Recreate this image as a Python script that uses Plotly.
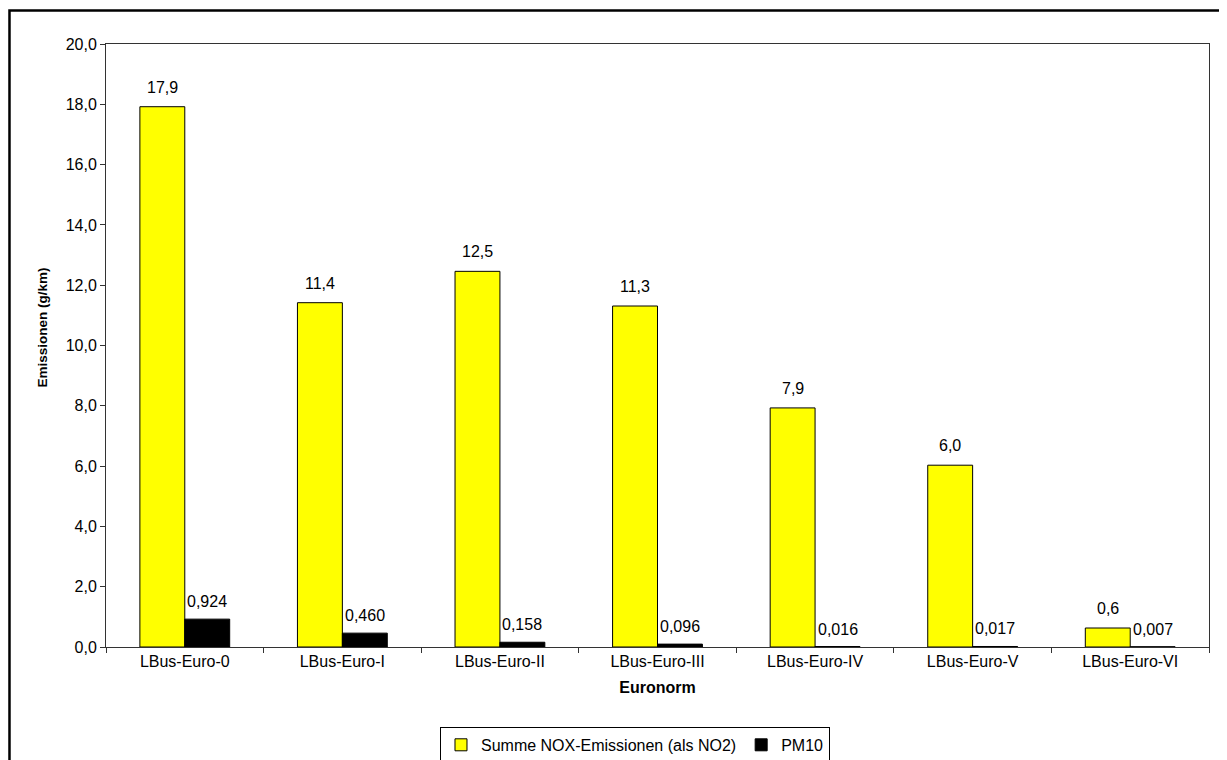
"""
Emissionen je Euronorm (Linienbus) - Nachbau mit Plotly
"""
import plotly.graph_objects as go

# Daten
kategorien = ['LBus-Euro-0', 'LBus-Euro-I', 'LBus-Euro-II', 'LBus-Euro-III',
              'LBus-Euro-IV', 'LBus-Euro-V', 'LBus-Euro-VI']
nox_werte = [17.92, 11.42, 12.46, 11.31, 7.93, 6.03, 0.63]
pm10_werte = [0.924, 0.460, 0.158, 0.096, 0.016, 0.017, 0.007]
y_ticks = [0, 2, 4, 6, 8, 10, 12, 14, 16, 18, 20]

SCHRIFT = 'Liberation Sans, Arial, sans-serif'


def de_format(wert, stellen):
    """Zahl mit Komma als Dezimaltrenner"""
    return f'{wert:.{stellen}f}'.replace('.', ',')


fig = go.Figure()

fig.add_trace(go.Bar(
    x=kategorien,
    y=nox_werte,
    name='Summe NOX-Emissionen (als NO2)',
    marker=dict(color='#FFFF00', line=dict(color='black', width=1)),
    hoverinfo='y'
))

fig.add_trace(go.Bar(
    x=kategorien,
    y=pm10_werte,
    name='PM10',
    marker=dict(color='black', line=dict(color='black', width=1)),
    hoverinfo='y'
))

# Datenbeschriftungen (wie in Excel etwas abgesetzt über den Balken)
annotationen = []
for kat, nox, pm in zip(kategorien, nox_werte, pm10_werte):
    annotationen.append(dict(
        x=kat, y=nox, text=de_format(nox, 1), showarrow=False,
        xshift=-22.5, yshift=9, yanchor='bottom',
        font=dict(size=16, color='black')
    ))
    annotationen.append(dict(
        x=kat, y=pm, text=de_format(pm, 3), showarrow=False,
        xshift=22.5, yshift=7, yanchor='bottom',
        font=dict(size=16, color='black')
    ))

# Y-Achsentitel etwas oberhalb der Mitte, wie im Original
annotationen.append(dict(
    text='<b>Emissionen (g/km)</b>', textangle=-90, showarrow=False,
    xref='paper', yref='paper', x=-0.058, y=0.53,
    xanchor='center', yanchor='middle',
    font=dict(size=13.5, color='black')
))

fig.update_layout(
    width=1219,
    height=752,
    barmode='group',
    bargap=0.43,
    bargroupgap=0,
    plot_bgcolor='white',
    paper_bgcolor='white',
    font=dict(family=SCHRIFT, size=16, color='black'),
    margin=dict(l=98, r=18, t=36, b=113),
    xaxis=dict(
        title=dict(text='<b>Euronorm</b>', font=dict(size=16), standoff=12),
        tickson='boundaries',
        ticks='outside',
        ticklen=5,
        tickcolor='#333333',
        showline=True,
        linecolor='#333333',
        mirror=True,
        showgrid=False,
        tickfont=dict(size=16)
    ),
    yaxis=dict(
        range=[0, 20],
        tickvals=y_ticks,
        ticktext=[de_format(v, 1) for v in y_ticks],
        ticks='outside',
        ticklen=5,
        tickcolor='#333333',
        showline=True,
        linecolor='#333333',
        mirror=True,
        showgrid=False,
        zeroline=False,
        tickfont=dict(size=16)
    ),
    legend=dict(
        orientation='h',
        x=0.4796,
        xanchor='center',
        yref='container',
        y=0.044,
        yanchor='top',
        bordercolor='black',
        borderwidth=1,
        font=dict(size=16),
        itemwidth=30,
        tracegroupgap=0
    ),
    showlegend=True,
    annotations=annotationen,
    shapes=[dict(
        type='rect', xref='paper', yref='paper',
        x0=-0.0875, x1=1.2, y0=-0.5, y1=1.0556,
        line=dict(color='black', width=2.5),
        fillcolor='rgba(0,0,0,0)', layer='below'
    )]
)

fig.write_html('out.html')
